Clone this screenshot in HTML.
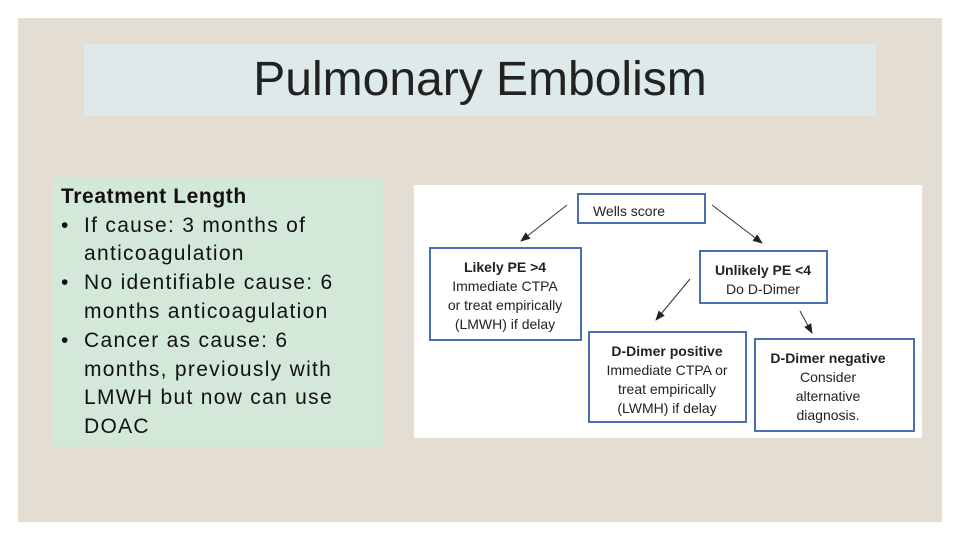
<!DOCTYPE html>
<html><head><meta charset="utf-8"><style>
body{margin:0;width:960px;height:540px;background:#fff;position:relative;overflow:hidden;font-family:"Liberation Sans",sans-serif}
.abs{position:absolute}
#bg{left:18px;top:18px;width:924px;height:504px;background:#e3ddd2}
#title{left:84px;top:44px;width:792px;height:72px;background:#deeaea;text-align:center;font-size:48px;line-height:72px;color:#222;font-weight:normal}
#left{left:53px;top:177px;width:330px;height:270px;background:#d4e8da}
#left div{position:absolute;font-size:21px;letter-spacing:1.3px;color:#111;line-height:21px;white-space:nowrap}
#panel{left:414px;top:185px;width:508px;height:253px;background:#fff}
svg text{font-family:"Liberation Sans",sans-serif;font-size:14px;fill:#222;text-anchor:middle}
</style></head><body>
<div class="abs" id="bg"></div>
<div class="abs" id="title">Pulmonary Embolism</div>
<div class="abs" id="left">
<div style="left:8px;top:9px;font-weight:bold;letter-spacing:0.6px">Treatment Length</div>
<div style="left:8px;top:38px">•</div><div style="left:31px;top:38px">If cause: 3 months of</div>
<div style="left:31px;top:66px">anticoagulation</div>
<div style="left:8px;top:95px">•</div><div style="left:31px;top:95px">No identifiable cause: 6</div>
<div style="left:31px;top:124px">months anticoagulation</div>
<div style="left:8px;top:153px">•</div><div style="left:31px;top:153px">Cancer as cause: 6</div>
<div style="left:31px;top:182px">months, previously with</div>
<div style="left:31px;top:210px">LMWH but now can use</div>
<div style="left:31px;top:239px">DOAC</div>
</div>
<div class="abs" id="panel"></div>
<svg class="abs" style="left:0;top:0" width="960" height="540">
<defs><marker id="a" markerWidth="10" markerHeight="8" refX="9" refY="4" orient="auto" markerUnits="userSpaceOnUse"><path d="M0,0L10,4L0,8z" fill="#222"/></marker></defs>
<g fill="none" stroke="#4a6fb5" stroke-width="2">
<rect x="578" y="194" width="127" height="29"/>
<rect x="430" y="248" width="151" height="92"/>
<rect x="700" y="251" width="127" height="52"/>
<rect x="589" y="332" width="157" height="90"/>
<rect x="755" y="339" width="159" height="92"/>
</g>
<g stroke="#333" stroke-width="1" marker-end="url(#a)">
<line x1="567" y1="205" x2="521" y2="241"/>
<line x1="712" y1="205" x2="762" y2="243"/>
<line x1="690" y1="279" x2="656" y2="320"/>
<line x1="800" y1="311" x2="812" y2="333"/>
</g>
<text x="629" y="216">Wells score</text>
<text x="505" y="272" font-weight="bold">Likely PE &gt;4</text>
<text x="505" y="291">Immediate CTPA</text>
<text x="505" y="310">or treat empirically</text>
<text x="505" y="329">(LMWH) if delay</text>
<text x="763" y="275" font-weight="bold">Unlikely PE &lt;4</text>
<text x="763" y="294">Do D-Dimer</text>
<text x="667" y="356" font-weight="bold">D-Dimer positive</text>
<text x="667" y="375">Immediate CTPA or</text>
<text x="667" y="394">treat empirically</text>
<text x="667" y="413">(LWMH) if delay</text>
<text x="828" y="363" font-weight="bold">D-Dimer negative</text>
<text x="828" y="382">Consider</text>
<text x="828" y="401">alternative</text>
<text x="828" y="420">diagnosis.</text>
</svg>
</body></html>
